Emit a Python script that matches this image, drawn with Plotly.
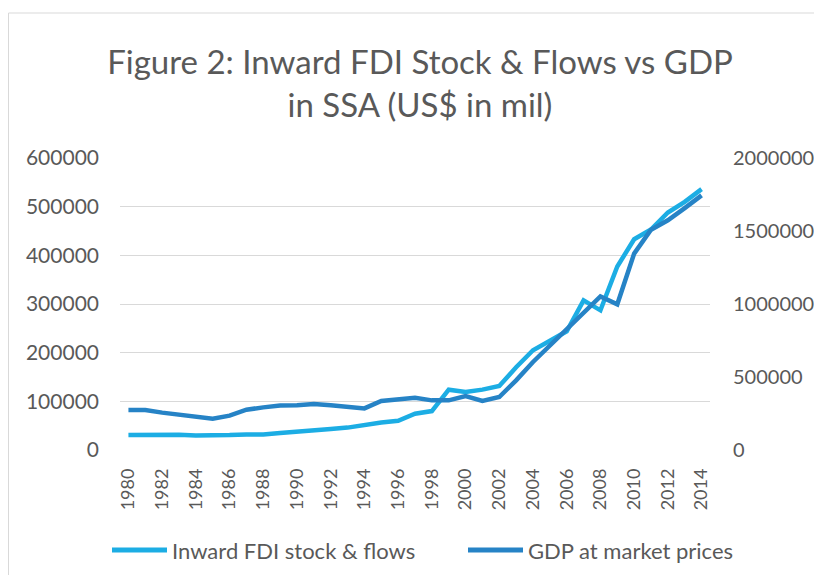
import plotly.graph_objects as go

years = list(range(1980, 2015))
fdi_stock_flows = [30800, 31500, 32200, 31500, 30000, 29800, 30800, 32000, 32000, 35000,
                   37000, 40500, 43000, 46000, 52000, 56500, 60000, 74600, 80000, 124000,
                   119000, 124000, 131500, 170000, 205000, 225000, 244000, 307500, 287000, 377000,
                   433000, 453000, 488000, 510000, 536000]
gdp_market_prices = [274000, 274000, 256000, 240000, 228000, 215000, 235000, 276000, 292000, 304000,
                     306000, 315000, 306000, 294000, 285000, 336000, 350000, 358000, 340000, 340000,
                     370000, 336000, 363000, 477000, 603000, 717000, 831000, 945000, 1052000, 998000,
                     1345000, 1509000, 1573000, 1657000, 1744000]
x_ticks = list(range(1980, 2015, 2))
left_ticks = [0, 100000, 200000, 300000, 400000, 500000, 600000]
right_ticks = [0, 500000, 1000000, 1500000, 2000000]
series_names = ["Inward FDI stock & flows", "GDP at market prices"]
series_colors = ["#1CADE4", "#2683C6"]

FONT = "Lato, 'Open Sans', sans-serif"
TXT = "#595959"

W, H = 806, 567
L, T, PW, PH = 112, 150, 590, 292


def px(fx):
    return (fx - L) / PW


def py(fy):
    return (T + PH - fy) / PH


fig = go.Figure()
fig.add_trace(go.Scatter(x=years, y=fdi_stock_flows, name=series_names[0],
                         mode="lines", line=dict(color=series_colors[0], width=4.5)))
fig.add_trace(go.Scatter(x=years, y=gdp_market_prices, name=series_names[1],
                         mode="lines", line=dict(color=series_colors[1], width=4.5), yaxis="y2"))

# Legend drawn at the bottom with long line samples (Excel style)
legend_y = 542
sample_x = [104, 460]
shapes = [dict(type="rect", xref="paper", yref="paper",
               x0=px(0.5), x1=px(W + 10), y0=py(H + 20), y1=py(5),
               line=dict(color="#D9D9D9", width=1), layer="below")]
annotations = []
for name, color, sx in zip(series_names, series_colors, sample_x):
    shapes.append(dict(type="line", xref="paper", yref="paper",
                       x0=px(sx), x1=px(sx + 55), y0=py(legend_y), y1=py(legend_y),
                       line=dict(color=color, width=5)))
    annotations.append(dict(text=name, xref="paper", yref="paper",
                            x=px(sx + 58), y=py(legend_y), xanchor="left", yanchor="middle",
                            showarrow=False, font=dict(size=22, color=TXT, family=FONT)))

fig.update_layout(
    width=W, height=H,
    margin=dict(l=L, r=W - L - PW, t=T, b=H - T - PH, autoexpand=False),
    paper_bgcolor="white", plot_bgcolor="white",
    font=dict(family=FONT, color=TXT),
    showlegend=False,
    title=dict(text="Figure 2: Inward FDI Stock & Flows vs GDP<br>in SSA (US$ in mil)",
               x=412 / W, xanchor="center", y=1 - 66 / H, yanchor="middle",
               font=dict(size=33, color=TXT, family=FONT)),
    xaxis=dict(range=[1979.5, 2014.5], tickmode="array", tickvals=x_ticks,
               ticktext=[str(t) for t in x_ticks], tickangle=-90, automargin=False,
               tickfont=dict(size=18, color=TXT), showgrid=False, zeroline=False,
               showline=False, ticks="", ticklabelstandoff=14),
    yaxis=dict(range=[0, 600000], tickmode="array", tickvals=left_ticks, tickformat="d",
               tickfont=dict(size=21, color=TXT), showgrid=True, gridcolor="#D9D9D9",
               gridwidth=1.3, zeroline=False, showline=False, ticks="", automargin=False,
               ticklabelstandoff=20),
    yaxis2=dict(range=[0, 2000000], tickmode="array", tickvals=right_ticks, tickformat="d",
                overlaying="y", side="right", tickfont=dict(size=20, color=TXT),
                showgrid=False, zeroline=False, showline=False, ticks="", automargin=False,
                ticklabelstandoff=22),
    shapes=shapes,
    annotations=annotations,
)

fig.write_html("out.html")
